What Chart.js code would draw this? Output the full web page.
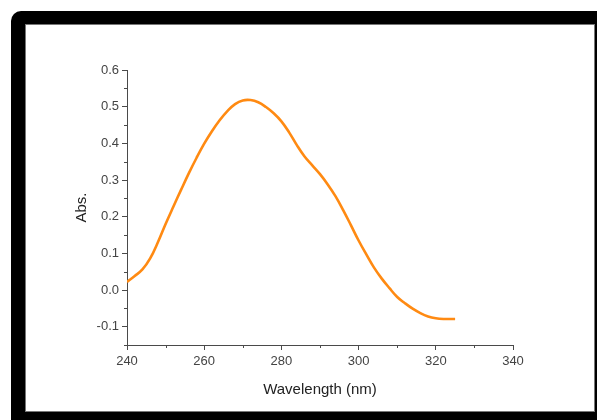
<!DOCTYPE html>
<html>
<head>
<meta charset="utf-8">
<script src="https://cdn.jsdelivr.net/npm/chart.js@4.4.1/dist/chart.umd.min.js"></script>
<style>
    html, body { margin: 0; padding: 0; background: #fff; }
    body { width: 597px; height: 420px; position: relative; overflow: hidden; }
    #frame {
        position: absolute; left: 11px; top: 11px; width: 600px; height: 420px;
        background: #000; border-top-left-radius: 10px;
    }
    #panel {
        position: absolute; left: 26px; top: 25px; width: 568px; height: 386px;
        background: #fff; box-shadow: 0 0 0 1px #777;
    }
    #myChart { position: absolute; left: 0; top: 0; }
</style>
</head>
<body>
<div id="frame"></div>
<div id="panel"><canvas id="myChart" width="568" height="386"></canvas></div>
<script>
// UV-Vis spectrum
let wavelengths = [240, 242, 244, 246, 248, 250, 252, 254, 256, 258, 260, 262, 264, 266, 268, 270,
    272, 274, 276, 278, 280, 282, 284, 286, 288, 290, 292, 294, 296, 298, 300, 302, 304, 306, 308,
    310, 312, 314, 316, 318, 320, 322, 324, 325];
let absorbance = [0.022, 0.038, 0.056, 0.086, 0.130, 0.180, 0.227, 0.273, 0.318, 0.360, 0.399, 0.433,
    0.463, 0.488, 0.507, 0.517, 0.518, 0.512, 0.499, 0.482, 0.460, 0.430, 0.395, 0.364, 0.340, 0.316,
    0.288, 0.256, 0.218, 0.177, 0.135, 0.097, 0.061, 0.031, 0.005, -0.019, -0.036, -0.051, -0.063,
    -0.072, -0.077, -0.079, -0.079, -0.079];

let xTicks = [240, 260, 280, 300, 320, 340];
let yTicks = [-0.1, 0.0, 0.1, 0.2, 0.3, 0.4, 0.5, 0.6];
let xMinor = [250, 270, 290, 310, 330];
let yMinor = [-0.15, -0.05, 0.05, 0.15, 0.25, 0.35, 0.45, 0.55];

let axisColor = '#4a4a4a';

// small in-between ticks, Chart.js has no minor ticks of its own
let minorTicks = {
    id: 'minorTicks',
    afterDraw(chart) {
        let ctx = chart.ctx;
        let x = chart.scales.x;
        let y = chart.scales.y;
        ctx.save();
        ctx.strokeStyle = axisColor;
        ctx.lineWidth = 1;
        ctx.beginPath();
        xMinor.forEach(v => {
            let px = Math.round(x.getPixelForValue(v)) + 0.5;
            ctx.moveTo(px, chart.chartArea.bottom);
            ctx.lineTo(px, chart.chartArea.bottom + 3);
        });
        yMinor.forEach(v => {
            let py = Math.round(y.getPixelForValue(v)) + 0.5;
            ctx.moveTo(chart.chartArea.left, py);
            ctx.lineTo(chart.chartArea.left - 3, py);
        });
        ctx.stroke();
        ctx.restore();
    }
};

function drawChart() {
    let ctx = document.getElementById('myChart').getContext('2d');
    new Chart(ctx, {
        type: 'line',
        data: {
            datasets: [{
                data: wavelengths.map((w, i) => ({ x: w, y: absorbance[i] })),
                borderColor: '#ff8a12',
                borderWidth: 2.6,
                pointRadius: 0,
                tension: 0.4,
                fill: false
            }]
        },
        options: {
            responsive: false,
            animation: false,
            devicePixelRatio: 1,
            layout: { padding: { top: 45, right: 81, left: 0, bottom: 0 } },
            plugins: { legend: { display: false }, tooltip: { enabled: false } },
            scales: {
                x: {
                    type: 'linear',
                    min: 240,
                    max: 340,
                    afterBuildTicks: axis => { axis.ticks = xTicks.map(v => ({ value: v })); },
                    afterFit: scale => { scale.height = 66; },
                    grid: { drawOnChartArea: false, tickLength: 5, color: axisColor },
                    border: { color: axisColor, width: 1 },
                    ticks: {
                        padding: 4, maxRotation: 0, autoSkip: false, color: '#444',
                        font: { family: 'Liberation Sans, Arial, sans-serif', size: 13 }
                    },
                    title: {
                        display: true, text: 'Wavelength (nm)', color: '#222',
                        font: { family: 'Liberation Sans, Arial, sans-serif', size: 15 },
                        padding: { top: 0, bottom: 12 }
                    }
                },
                y: {
                    min: -0.15,
                    max: 0.6,
                    afterBuildTicks: axis => { axis.ticks = yTicks.map(v => ({ value: v })); },
                    afterFit: scale => { scale.width = 101; },
                    grid: { drawOnChartArea: false, tickLength: 5, color: axisColor },
                    border: { color: axisColor, width: 1 },
                    ticks: {
                        padding: 3, autoSkip: false, color: '#444',
                        font: { family: 'Liberation Sans, Arial, sans-serif', size: 13 },
                        callback: v => v.toFixed(1)
                    },
                    title: {
                        display: true, text: 'Abs.', color: '#222',
                        font: { family: 'Liberation Sans, Arial, sans-serif', size: 15 },
                        padding: { top: 47, bottom: 0 }
                    }
                }
            }
        },
        plugins: [minorTicks]
    });
}

drawChart();
</script>
</body>
</html>
